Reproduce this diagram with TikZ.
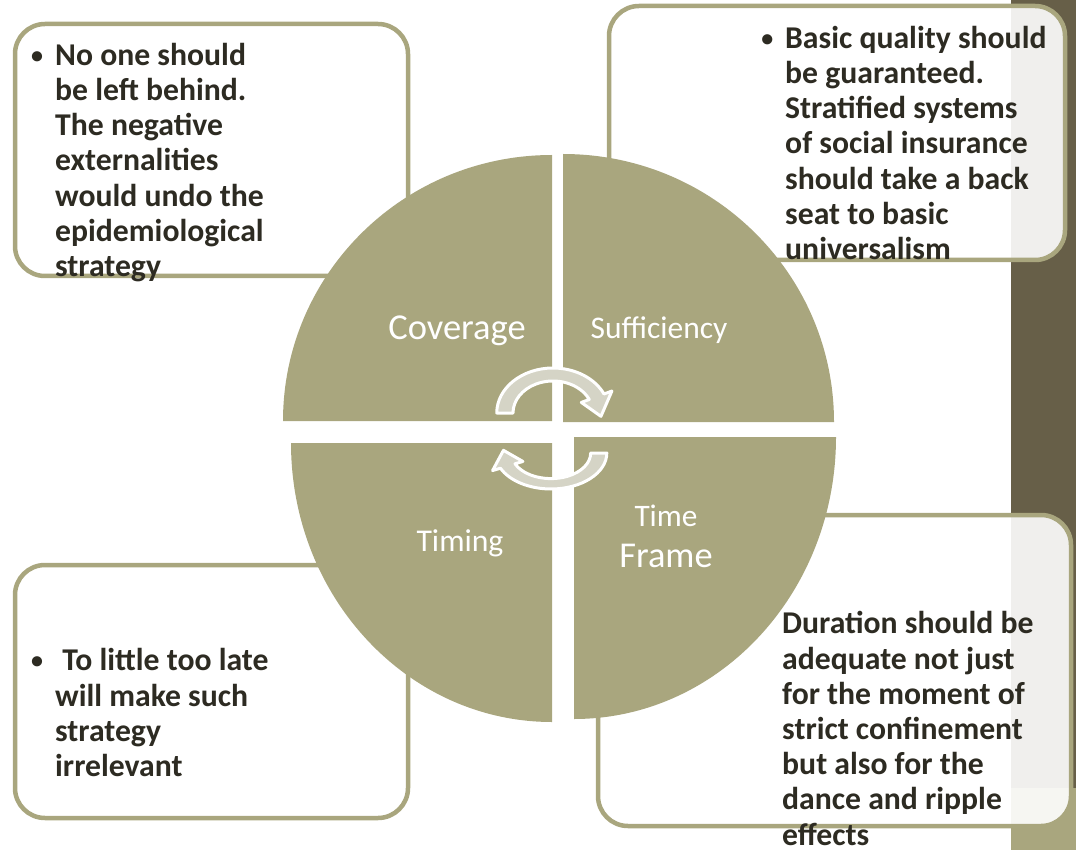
\documentclass[tikz,border=0pt]{standalone}
\usepackage{fontspec}
\setmainfont{Carlito}
\definecolor{quadolive}{HTML}{A9A67E}
\definecolor{stripdark}{HTML}{675F48}
\definecolor{notedark}{HTML}{2D2B22}
\definecolor{arrowgrey}{HTML}{D5D4C6}
\tikzset{
  quadrant/.style={fill=quadolive},
  notebox/.style={rectangle, draw=quadolive, line width=4.5pt,
    rounded corners=30pt, fill=white, fill opacity=0.9},
  notetext/.style={text=notedark, inner sep=0pt, anchor=base west,
    align=left, font=\bfseries\fontsize{31.7}{35.2}\selectfont},
  quadlabel/.style={text=white, inner sep=0pt, anchor=base},
  cyclearrow/.style={fill=arrowgrey, draw=white, line width=3pt,
    line join=round}
}
\newcommand{\notebullet}{\llap{\raisebox{2pt}{\fontsize{24}{24}\selectfont\textbullet}\hspace{12pt}}}
\newcommand{\halfarrow}{(180:45) arc[start angle=180, end angle=335, radius=45]
  -- (335:52) -- (365:38.5) -- (335:25) -- (335:32)
  arc[start angle=335, end angle=180, radius=32] -- cycle}

\begin{document}
\begin{tikzpicture}[x=1pt, y=-1pt]
  \useasboundingbox (0,0) rectangle (1076,850);
  % slide strip on the right
  \fill[stripdark] (1011,0) rectangle (1076,788);
  \fill[quadolive] (1011,788) rectangle (1076,850);

  % note boxes
  \node[notebox, minimum width=393pt, minimum height=252pt] (tlBox) at (211.5,150) {};
  \node[notebox, minimum width=456pt, minimum height=254pt] (trBox) at (837,133) {};
  \node[notebox, minimum width=393pt, minimum height=253pt] (blBox) at (211.5,691.5) {};
  \node[notebox, minimum width=473pt, minimum height=311pt] (brBox) at (834.5,670.5) {};

  % quadrants
  \fill[quadrant] (552,421) -- (283,421)
    arc[start angle=180, end angle=270, x radius=269, y radius=266] -- cycle;
  \fill[quadrant] (563,422) -- (563,154)
    arc[start angle=270, end angle=360, x radius=271, y radius=268] -- cycle;
  \fill[quadrant] (552,443) -- (291,443)
    arc[start angle=180, end angle=90, x radius=261, y radius=279] -- cycle;
  \fill[quadrant] (574,437) -- (836,437)
    arc[start angle=0, end angle=90, x radius=262, y radius=282] -- cycle;

  % cycle arrows
  \begin{scope}[shift={(553,413)}, xscale=1.25]
    \filldraw[cyclearrow] \halfarrow;
  \end{scope}
  \begin{scope}[shift={(551,453)}, xscale=-1.24, yscale=-0.8]
    \filldraw[cyclearrow] \halfarrow;
  \end{scope}

  % quadrant labels
  \node[quadlabel, font=\fontsize{36.5}{40}\selectfont] (coverage) at (457,339) {Coverage};
  \node[quadlabel, font=\fontsize{31.5}{36}\selectfont] (sufficiency) at (659,338) {Sufficiency};
  \node[quadlabel, font=\fontsize{31.7}{36}\selectfont] (timing) at (460,551) {Timing};
  \node[quadlabel, font=\fontsize{31.3}{36}\selectfont] (time) at (666,526) {Time};
  \node[quadlabel, font=\fontsize{36.4}{40}\selectfont] (frame) at (666,567) {Frame};

  % notes (anchored at the baseline of the last line)
  \node[notetext] (tlText) at (55,276.5) {\notebullet No one should\\be left behind.\\The negative\\externalities\\would undo the\\epidemiological\\strategy};
  \node[notetext] (trText) at (785,259.5) {\notebullet Basic quality should\\be guaranteed.\\Stratified systems\\of social insurance\\should take a back\\seat to basic\\universalism};
  \node[notetext] (blText) at (55,776.5) {\notebullet\ To little too late\\will make such\\strategy\\irrelevant};
  \node[notetext] (brText) at (782,845) {Duration should be\\adequate not just\\for the moment of\\strict confinement\\but also for the\\dance and ripple\\effects};
\end{tikzpicture}
\end{document}
